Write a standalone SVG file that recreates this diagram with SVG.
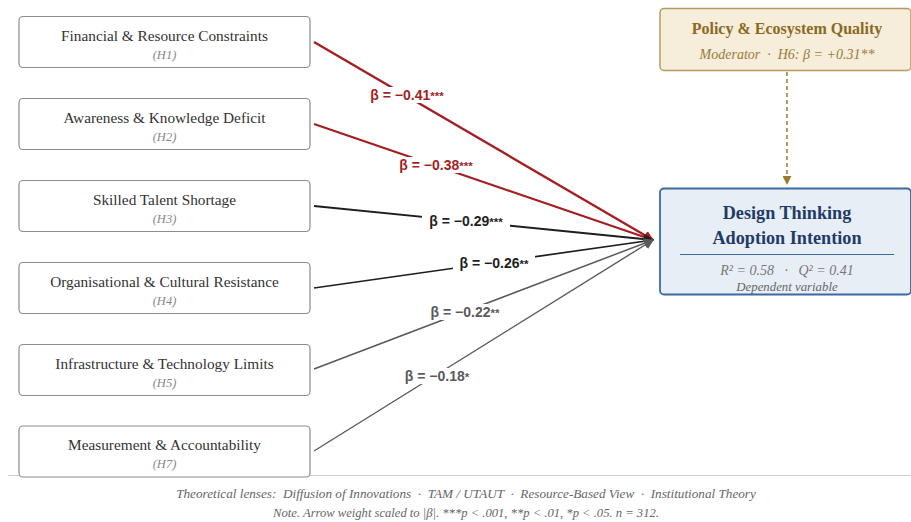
<svg xmlns="http://www.w3.org/2000/svg" width="911" height="522" viewBox="0 0 911 522">
<defs>
<style>
.box{fill:#fff;stroke:#8c8c8c;stroke-width:1.2}
.bt{font-family:"Liberation Serif",serif;font-size:15.3px;fill:#333;text-anchor:middle}
.bh{font-family:"Liberation Serif",serif;font-size:12.5px;font-style:italic;fill:#888;text-anchor:middle}
.lbl{font-family:"Liberation Sans",Arial,sans-serif;font-size:14px;font-weight:bold;text-anchor:middle}
.st{font-size:11.5px}
.bg{fill:#fff}
.foot{font-family:"Liberation Serif",serif;font-style:italic;fill:#666;text-anchor:middle}
</style>
<marker id="mr" viewBox="0 0 10 10" refX="9" refY="5" markerWidth="10" markerHeight="10" markerUnits="userSpaceOnUse" orient="auto"><path d="M0,0 L10,5 L0,10 z" fill="#a31f24"/></marker>
<marker id="mk" viewBox="0 0 10 10" refX="9" refY="5" markerWidth="10" markerHeight="10" markerUnits="userSpaceOnUse" orient="auto"><path d="M0,0 L10,5 L0,10 z" fill="#1e1e1e"/></marker>
<marker id="mg" viewBox="0 0 10 10" refX="9" refY="5" markerWidth="10" markerHeight="10" markerUnits="userSpaceOnUse" orient="auto"><path d="M0,0 L10,5 L0,10 z" fill="#5a5a5a"/></marker>
<marker id="md" viewBox="0 0 10 10" refX="9" refY="5" markerWidth="9" markerHeight="9" markerUnits="userSpaceOnUse" orient="auto"><path d="M0,0 L10,5 L0,10 z" fill="#9a7a2e"/></marker>
</defs>
<rect width="911" height="522" fill="#fff"/>
<line x1="8" y1="475.5" x2="911" y2="475.5" stroke="#cfcfcf" stroke-width="1"/>

<g id="connectors">
<line x1="314" y1="42" x2="653" y2="240" stroke="#a31f24" stroke-width="2.4" marker-end="url(#mr)"/>
<line x1="314" y1="124" x2="653" y2="240" stroke="#a31f24" stroke-width="2.2" marker-end="url(#mr)"/>
<line x1="314" y1="206" x2="653" y2="240" stroke="#1e1e1e" stroke-width="1.9" marker-end="url(#mk)"/>
<line x1="314" y1="288" x2="653" y2="240" stroke="#1e1e1e" stroke-width="1.7" marker-end="url(#mk)"/>
<line x1="314" y1="369" x2="653" y2="240" stroke="#5a5a5a" stroke-width="1.5" marker-end="url(#mg)"/>
<line x1="314" y1="451" x2="653" y2="240" stroke="#5a5a5a" stroke-width="1.4" marker-end="url(#mg)"/>
<line x1="787" y1="72" x2="787" y2="184" stroke="#9a7a2e" stroke-width="1.5" stroke-dasharray="4,3" marker-end="url(#md)"/>
<rect class="bg" x="363" y="87" width="88" height="16"/>
<text class="lbl" x="407" y="100" fill="#a31f24">β = −0.41<tspan class="st">***</tspan></text>
<rect class="bg" x="392" y="157" width="88" height="16"/>
<text class="lbl" x="436" y="170" fill="#a31f24">β = −0.38<tspan class="st">***</tspan></text>
<rect class="bg" x="422" y="213" width="88" height="16"/>
<text class="lbl" x="466" y="226" fill="#1e1e1e">β = −0.29<tspan class="st">***</tspan></text>
<rect class="bg" x="453" y="255" width="82" height="16"/>
<text class="lbl" x="494" y="268" fill="#1e1e1e">β = −0.26<tspan class="st">**</tspan></text>
<rect class="bg" x="424" y="304" width="82" height="16"/>
<text class="lbl" x="465" y="317" fill="#5a5a5a">β = −0.22<tspan class="st">**</tspan></text>
<rect class="bg" x="399" y="368" width="76" height="16"/>
<text class="lbl" x="437" y="381" fill="#5a5a5a">β = −0.18<tspan class="st">*</tspan></text>
</g>

<g id="h1"><rect class="box" x="19" y="16.5" width="291" height="51" rx="4"/><text class="bt" x="164.5" y="41">Financial &amp; Resource Constraints</text><text class="bh" x="164.5" y="59">(H1)</text></g>
<g id="h2"><rect class="box" x="19" y="98.5" width="291" height="51" rx="4"/><text class="bt" x="164.5" y="123">Awareness &amp; Knowledge Deficit</text><text class="bh" x="164.5" y="141">(H2)</text></g>
<g id="h3"><rect class="box" x="19" y="180.5" width="291" height="51" rx="4"/><text class="bt" x="164.5" y="205">Skilled Talent Shortage</text><text class="bh" x="164.5" y="223">(H3)</text></g>
<g id="h4"><rect class="box" x="19" y="262.5" width="291" height="51" rx="4"/><text class="bt" x="164.5" y="287">Organisational &amp; Cultural Resistance</text><text class="bh" x="164.5" y="305">(H4)</text></g>
<g id="h5"><rect class="box" x="19" y="344.5" width="291" height="51" rx="4"/><text class="bt" x="164.5" y="369">Infrastructure &amp; Technology Limits</text><text class="bh" x="164.5" y="387">(H5)</text></g>
<g id="h7"><rect class="box" x="19" y="426" width="291" height="51" rx="4"/><text class="bt" x="164.5" y="450">Measurement &amp; Accountability</text><text class="bh" x="164.5" y="468">(H7)</text></g>

<g id="moderator">
<rect x="660" y="8.5" width="251" height="62" rx="4" fill="#f6eddb" stroke="#b99a5c" stroke-width="1.5"/>
<text x="787" y="34" font-family="Liberation Serif,serif" font-size="16" font-weight="bold" fill="#8a6a22" text-anchor="middle">Policy &amp; Ecosystem Quality</text>
<text xml:space="preserve" x="787" y="59" font-family="Liberation Serif,serif" font-size="14" font-style="italic" fill="#9a7a3a" text-anchor="middle">Moderator  ·  H6: β = +0.31**</text>
</g>

<g id="outcome">
<rect x="660" y="188.5" width="251" height="106" rx="4" fill="#e8eef6" stroke="#3a6a9e" stroke-width="1.8"/>
<text x="787" y="219" font-family="Liberation Serif,serif" font-size="18.2" font-weight="bold" fill="#1f3b68" text-anchor="middle">Design Thinking</text>
<text x="787" y="244" font-family="Liberation Serif,serif" font-size="18.2" font-weight="bold" fill="#1f3b68" text-anchor="middle">Adoption Intention</text>
<line x1="680" y1="254.5" x2="894" y2="254.5" stroke="#3a6a9e" stroke-width="1"/>
<text xml:space="preserve" x="787" y="275" font-family="Liberation Serif,serif" font-size="14" font-style="italic" fill="#777" text-anchor="middle">R² = 0.58   ·   Q² = 0.41</text>
<text x="787" y="291" font-family="Liberation Serif,serif" font-size="12.8" font-style="italic" fill="#666" text-anchor="middle">Dependent variable</text>
</g>

<g id="footer">
<text xml:space="preserve" class="foot" x="466" y="498" font-size="13.2">Theoretical lenses:  Diffusion of Innovations  ·  TAM / UTAUT  ·  Resource-Based View  ·  Institutional Theory</text>
<text class="foot" x="466" y="517" font-size="12.6">Note. Arrow weight scaled to |β|. ***p &lt; .001, **p &lt; .01, *p &lt; .05. n = 312.</text>
</g>
</svg>
